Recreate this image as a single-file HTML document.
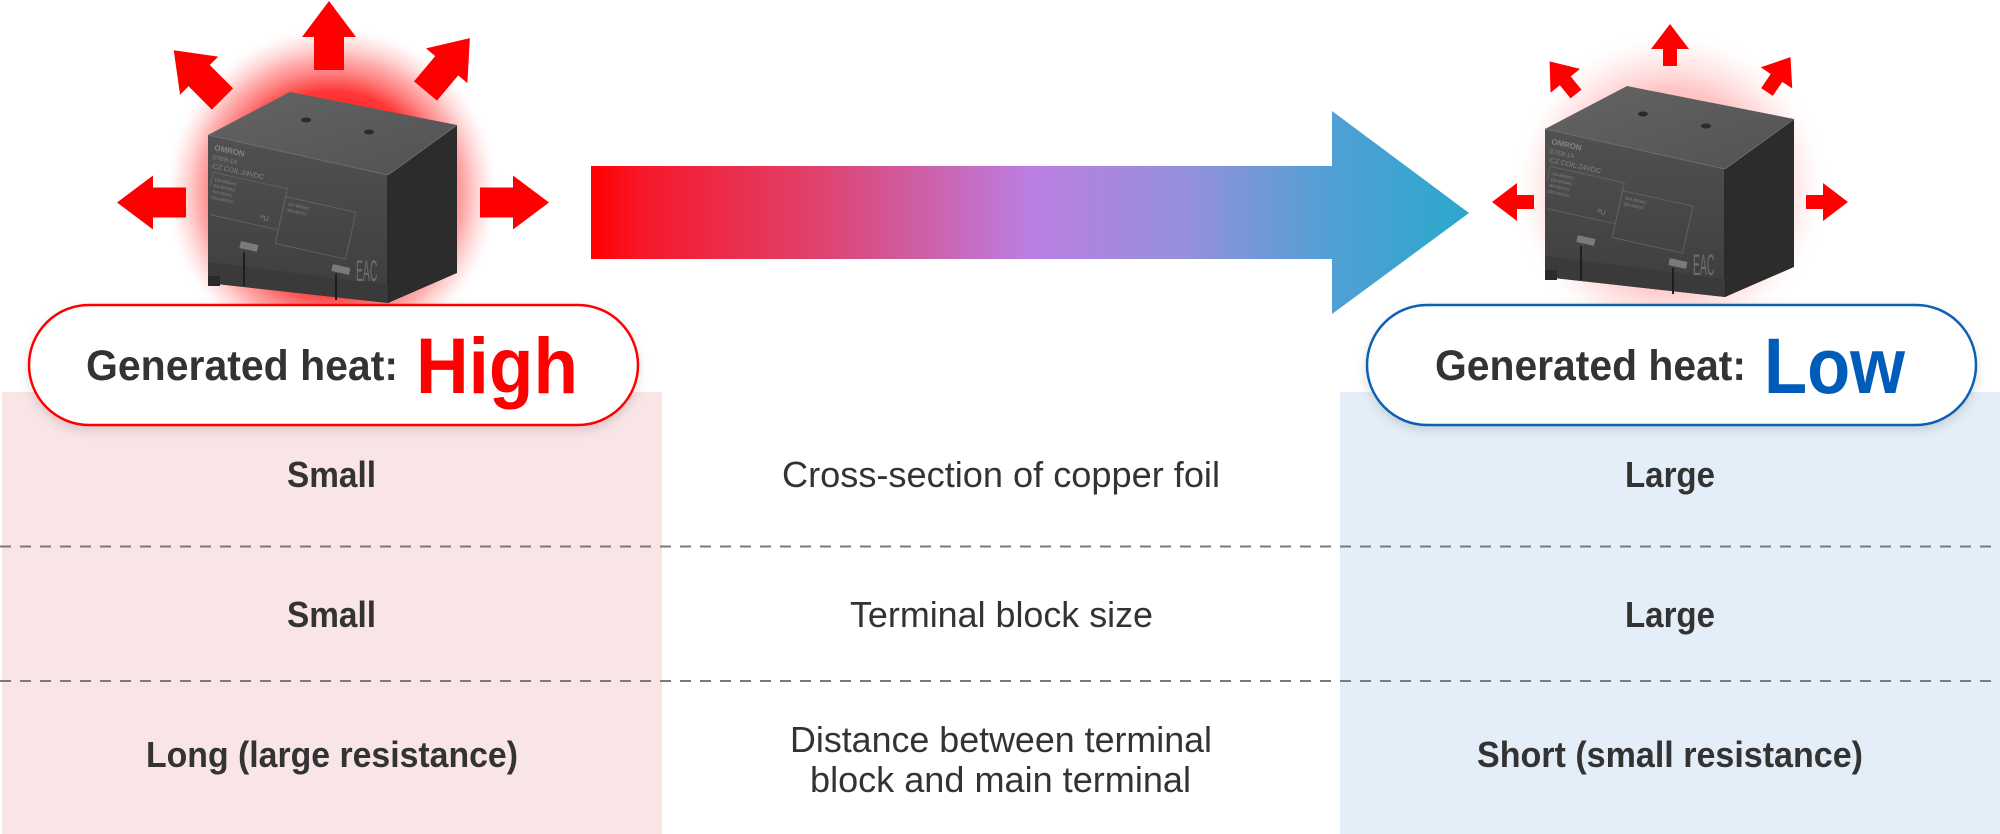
<!DOCTYPE html>
<html>
<head>
<meta charset="utf-8">
<style>
html,body{margin:0;padding:0;background:#fff;}
svg{display:block;}
text{font-family:"Liberation Sans", Arial, sans-serif;}
</style>
</head>
<body>
<svg width="2000" height="834" viewBox="0 0 2000 834" xmlns="http://www.w3.org/2000/svg">
  <defs>
    <linearGradient id="bigArrow" x1="591" y1="0" x2="1469" y2="0" gradientUnits="userSpaceOnUse">
      <stop offset="0" stop-color="#ff0000"/>
      <stop offset="0.06" stop-color="#f7182a"/>
      <stop offset="0.25" stop-color="#e0406a"/>
      <stop offset="0.5" stop-color="#bb7ee2"/>
      <stop offset="0.68" stop-color="#9490dc"/>
      <stop offset="0.84" stop-color="#529fd5"/>
      <stop offset="1" stop-color="#2aa8cc"/>
    </linearGradient>
    <radialGradient id="glowHot" cx="332" cy="192" r="168" gradientUnits="userSpaceOnUse">
      <stop offset="0" stop-color="#ff0000" stop-opacity="1"/>
      <stop offset="0.6" stop-color="#ff2020" stop-opacity="0.9"/>
      <stop offset="0.8" stop-color="#ff6060" stop-opacity="0.5"/>
      <stop offset="0.92" stop-color="#ffa0a0" stop-opacity="0.2"/>
      <stop offset="1" stop-color="#ffffff" stop-opacity="0"/>
    </radialGradient>
    <radialGradient id="glowCool" cx="1670" cy="188" r="160" gradientUnits="userSpaceOnUse">
      <stop offset="0" stop-color="#ff6060" stop-opacity="0.6"/>
      <stop offset="0.62" stop-color="#ff8080" stop-opacity="0.45"/>
      <stop offset="0.82" stop-color="#ffb0b0" stop-opacity="0.22"/>
      <stop offset="1" stop-color="#ffffff" stop-opacity="0"/>
    </radialGradient>
    <linearGradient id="topFace" x1="0" y1="0" x2="1" y2="1">
      <stop offset="0" stop-color="#646464"/>
      <stop offset="1" stop-color="#525252"/>
    </linearGradient>
    <linearGradient id="frontFace" x1="0" y1="0" x2="0" y2="1">
      <stop offset="0" stop-color="#515151"/>
      <stop offset="1" stop-color="#3d3d3d"/>
    </linearGradient>
    <clipPath id="frontClip">
      <polygon points="210,137 386,177 386,301 210,281"/>
    </clipPath>
    <filter id="pillShadow" x="-5%" y="-20%" width="110%" height="150%">
      <feDropShadow dx="0" dy="4" stdDeviation="5" flood-color="#000" flood-opacity="0.13"/>
    </filter>
    <g id="relay">
      <!-- top face -->
      <polygon points="208,135 290,92 457,125 388,175" fill="url(#topFace)"/>
      <!-- front face -->
      <polygon points="208,135 388,175 388,303 208,283" fill="url(#frontFace)"/>
      <!-- side face -->
      <polygon points="388,175 457,125 457,273 388,303" fill="#2c2c2c"/>
      <!-- edges -->
      <polyline points="208,135 388,175 457,125" fill="none" stroke="#6c6c6c" stroke-width="1"/>
      <line x1="388" y1="175" x2="388" y2="303" stroke="#262626" stroke-width="1.5"/>
      <!-- holes -->
      <ellipse cx="306" cy="120" rx="5" ry="2.5" fill="#2a2a2a"/>
      <ellipse cx="369" cy="132" rx="5" ry="2.5" fill="#2a2a2a"/>
      <!-- label lines -->
      <g clip-path="url(#frontClip)">
        <g transform="translate(214,150) rotate(12.5)" fill="#858585">
          <text x="0" y="0" font-size="8" font-weight="bold">OMRON</text>
          <text x="0" y="9" font-size="6">G7EB-1A</text>
          <text x="0" y="18" font-size="7">-CZ COIL:24VDC</text>
          <rect x="4" y="22" width="76" height="42" fill="none" stroke="#666" stroke-width="0.8"/>
          <rect x="80" y="30" width="72" height="48" fill="none" stroke="#666" stroke-width="0.8"/>
          <text x="7" y="30" font-size="4">15A 800VAC</text>
          <text x="7" y="36" font-size="4">30A 800VAC</text>
          <text x="7" y="42" font-size="4">40A 80VDC</text>
          <text x="7" y="48" font-size="4">100A 80VDC</text>
          <text x="84" y="38" font-size="4">30A 800VAC</text>
          <text x="84" y="44" font-size="4">30A 80VDC</text>
          <text x="60" y="58" font-size="7">ᴿU</text>
        </g>
      </g>
      <!-- lower band / terminals -->
      <polygon points="208,262 388,285 388,303 208,283" fill="#3a3a3a"/>
      <rect x="240" y="243" width="18" height="7" fill="#7a7a7a" transform="rotate(12.5 249 246)"/>
      <rect x="332" y="266" width="18" height="7" fill="#7a7a7a" transform="rotate(12.5 341 269)"/>
      <line x1="244" y1="252" x2="244" y2="286" stroke="#1e1e1e" stroke-width="2"/>
      <line x1="336" y1="274" x2="336" y2="300" stroke="#1e1e1e" stroke-width="2"/>
      <rect x="208" y="276" width="12" height="10" fill="#2a2a2a"/>
      <text x="0" y="0" font-size="40" fill="#6e6e6e" transform="translate(356,281) scale(0.26,0.75)">EAC</text>
    </g>
  </defs>

  <!-- background panels -->
  <rect x="2" y="392" width="660" height="442" fill="#f9e4e6"/>
  <rect x="1340" y="392" width="660" height="442" fill="#e3eef8"/>

  <!-- dashed dividers -->
  <line x1="0" y1="546.5" x2="2000" y2="546.5" stroke="#7a7a7a" stroke-width="2" stroke-dasharray="11 9"/>
  <line x1="0" y1="681" x2="2000" y2="681" stroke="#7a7a7a" stroke-width="2" stroke-dasharray="11 9"/>

  <!-- glows -->
  <circle cx="332" cy="192" r="168" fill="url(#glowHot)"/>
  <circle cx="1670" cy="188" r="160" fill="url(#glowCool)"/>

  <!-- relays -->
  <use href="#relay"/>
  <use href="#relay" transform="translate(1337,-6)"/>

  <!-- big red arrows (left relay) -->
  <g fill="#ff0000">
    <path d="M0,-15 L33,-15 L33,-27 L69,0 L33,27 L33,15 L0,15 Z" transform="translate(329,70) rotate(-90)"/>
    <path d="M0,-15 L33,-15 L33,-27 L69,0 L33,27 L33,15 L0,15 Z" transform="translate(186,202.5) rotate(180)"/>
    <path d="M0,-15 L33,-15 L33,-27 L69,0 L33,27 L33,15 L0,15 Z" transform="translate(480,202.5)"/>
    <path d="M0,-15 L33,-15 L33,-27 L69,0 L33,27 L33,15 L0,15 Z" transform="translate(222.5,99) rotate(-135)"/>
    <path d="M0,-15 L33,-15 L33,-27 L69,0 L33,27 L33,15 L0,15 Z" transform="translate(425.5,91) rotate(-50)"/>
  </g>

  <!-- small red arrows (right relay) -->
  <g fill="#ff0000">
    <path d="M0,-7 L17,-7 L17,-19 L42,0 L17,19 L17,7 L0,7 Z" transform="translate(1670,66) rotate(-90)"/>
    <path d="M0,-7 L17,-7 L17,-19 L42,0 L17,19 L17,7 L0,7 Z" transform="translate(1534,202) rotate(180)"/>
    <path d="M0,-7 L17,-7 L17,-19 L42,0 L17,19 L17,7 L0,7 Z" transform="translate(1806,202)"/>
    <path d="M0,-7 L17,-7 L17,-19 L42,0 L17,19 L17,7 L0,7 Z" transform="translate(1576,94) rotate(-129)"/>
    <path d="M0,-7 L17,-7 L17,-19 L42,0 L17,19 L17,7 L0,7 Z" transform="translate(1767,92) rotate(-56)"/>
  </g>

  <!-- big gradient arrow -->
  <polygon points="591,166 1332,166 1332,111 1469,213 1332,314 1332,259 591,259" fill="url(#bigArrow)"/>

  <!-- pills -->
  <rect x="29" y="305" width="609" height="120" rx="60" ry="60" fill="#ffffff" stroke="#ff0000" stroke-width="2.5" filter="url(#pillShadow)"/>
  <rect x="1367" y="305" width="609" height="120" rx="60" ry="60" fill="#ffffff" stroke="#0a5fb4" stroke-width="2.5" filter="url(#pillShadow)"/>

  <text x="86" y="380" font-size="43" font-weight="bold" fill="#333333" textLength="312" lengthAdjust="spacingAndGlyphs">Generated heat:</text>
  <text x="416" y="393" font-size="79" font-weight="bold" fill="#ff0000" textLength="162" lengthAdjust="spacingAndGlyphs">High</text>

  <text x="1435" y="380" font-size="43" font-weight="bold" fill="#333333" textLength="311" lengthAdjust="spacingAndGlyphs">Generated heat:</text>
  <text x="1764" y="393" font-size="79" font-weight="bold" fill="#005cb9" textLength="141" lengthAdjust="spacingAndGlyphs">Low</text>

  <!-- table text: left column -->
  <g font-size="36" font-weight="bold" fill="#333333">
    <text x="287" y="487" textLength="89" lengthAdjust="spacingAndGlyphs">Small</text>
    <text x="287" y="627" textLength="89" lengthAdjust="spacingAndGlyphs">Small</text>
    <text x="146" y="767" textLength="372" lengthAdjust="spacingAndGlyphs">Long (large resistance)</text>
  </g>

  <!-- table text: middle column -->
  <g font-size="36" fill="#333333">
    <text x="782" y="487" textLength="438" lengthAdjust="spacingAndGlyphs">Cross-section of copper foil</text>
    <text x="850" y="627" textLength="303" lengthAdjust="spacingAndGlyphs">Terminal block size</text>
    <text x="790" y="752" textLength="422" lengthAdjust="spacingAndGlyphs">Distance between terminal</text>
    <text x="810" y="792" textLength="381" lengthAdjust="spacingAndGlyphs">block and main terminal</text>
  </g>

  <!-- table text: right column -->
  <g font-size="36" font-weight="bold" fill="#333333">
    <text x="1625" y="487" textLength="90" lengthAdjust="spacingAndGlyphs">Large</text>
    <text x="1625" y="627" textLength="90" lengthAdjust="spacingAndGlyphs">Large</text>
    <text x="1477" y="767" textLength="386" lengthAdjust="spacingAndGlyphs">Short (small resistance)</text>
  </g>
</svg>
</body>
</html>
